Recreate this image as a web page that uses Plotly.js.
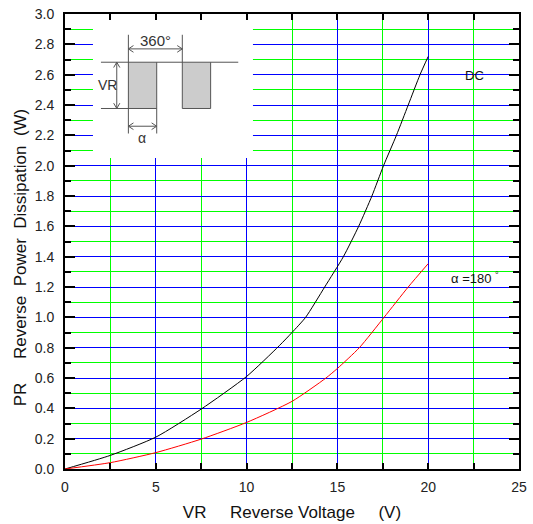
<!DOCTYPE html>
<html>
<head>
<meta charset="utf-8">
<script src="https://cdn.plot.ly/plotly-3.0.1.min.js"></script>
<style>html,body{margin:0;padding:0;background:#fff;}#chart{width:533px;height:524px;}</style>
</head>
<body>
<div id="chart"></div>
<script>
// Data
const dcX = [0, 2.5, 5, 7.5, 10, 11.8, 12.5, 13.25, 14.3, 15.33, 16.17, 16.9, 17.54, 18.25, 18.9, 19.55, 20];
const dcY = [0, 0.09, 0.21, 0.395, 0.61, 0.813, 0.90, 1.0, 1.2, 1.4, 1.6, 1.8, 2.0, 2.2, 2.4, 2.6, 2.72];
const halfX = [0, 2.5, 5, 7.5, 10, 12.5, 14.37, 15, 16.21, 17.57, 18.9, 20];
const halfY = [0, 0.042, 0.108, 0.197, 0.307, 0.446, 0.6, 0.663, 0.8, 1.0, 1.2, 1.354];
const seriesNames = ["DC", "α =180 °"];
const xTickVals = [0, 5, 10, 15, 20, 25];
const yTickVals = [0, 0.2, 0.4, 0.6, 0.8, 1.0, 1.2, 1.4, 1.6, 1.8, 2.0, 2.2, 2.4, 2.6, 2.8, 3.0];

const NB = "\u00A0";
const font = "Arial, 'Liberation Sans', sans-serif";

const traces = [
  {x: dcX, y: dcY, mode: "lines", name: seriesNames[0], line: {color: "#000000", width: 1, shape: "spline", smoothing: 0.6}},
  {x: halfX, y: halfY, mode: "lines", name: seriesNames[1], line: {color: "#ff0000", width: 1, shape: "spline", smoothing: 0.6}}
];

const grey = "#555555";
function ln(x0, y0, x1, y1) {
  return {type: "line", xref: "x", yref: "y", x0: x0, x1: x1, y0: y0, y1: y1, line: {color: grey, width: 1}, layer: "between"};
}
function path(d) {
  return {type: "path", xref: "x", yref: "y", path: d, line: {color: grey, width: 1}, layer: "between"};
}
// arrowhead sizes in data units (~5px long, ~3px half width)
const ahx = 0.28, ahy = 0.022, avx = 0.17, avy = 0.035;
function hArrow(xa, xb, y) {
  return [ln(xa, y, xb, y),
    path(`M${xa + ahx},${y + ahy} L${xa},${y} L${xa + ahx},${y - ahy}`),
    path(`M${xb - ahx},${y + ahy} L${xb},${y} L${xb - ahx},${y - ahy}`)];
}
function vArrow(x, ya, yb) { // ya top, yb bottom
  return [ln(x, ya, x, yb),
    path(`M${x - avx},${ya - avy} L${x},${ya} L${x + avx},${ya - avy}`),
    path(`M${x - avx},${yb + avy} L${x},${yb} L${x + avx},${yb + avy}`)];
}

const shapes = [
  // white box behind inset
  {type: "rect", xref: "x", yref: "y", x0: 1.54, x1: 10.35, y0: 2.05, y1: 2.985, fillcolor: "#ffffff", line: {width: 0}, layer: "between"},
  // grey pulses
  {type: "rect", xref: "x", yref: "y", x0: 3.49, x1: 5.05, y0: 2.377, y1: 2.682, fillcolor: "#cccccc", line: {width: 0}, layer: "between"},
  {type: "rect", xref: "x", yref: "y", x0: 6.46, x1: 8.02, y0: 2.377, y1: 2.682, fillcolor: "#cccccc", line: {width: 0}, layer: "between"},
  // waveform outline
  ln(1.98, 2.682, 9.54, 2.682),
  ln(1.98, 2.377, 5.05, 2.377),
  ln(6.46, 2.377, 8.02, 2.377),
  ln(3.49, 2.212, 3.49, 2.863),
  ln(5.05, 2.212, 5.05, 2.682),
  ln(6.46, 2.377, 6.46, 2.863),
  ln(8.02, 2.377, 8.02, 2.682),
  ...hArrow(3.49, 6.46, 2.770),
  ...vArrow(2.85, 2.682, 2.377),
  ...hArrow(3.49, 5.05, 2.260)
];

const annotations = [
  {x: 5.0, y: 2.826, xref: "x", yref: "y", text: "360°", showarrow: false, font: {family: font, size: 15, color: "#333"}},
  {x: 2.32, y: 2.53, xref: "x", yref: "y", text: "VR", showarrow: false, font: {family: font, size: 14, color: "#333"}},
  {x: 4.25, y: 2.185, xref: "x", yref: "y", text: "α", showarrow: false, font: {family: font, size: 14, color: "#333"}},
  {x: 22.55, y: 2.596, xref: "x", yref: "y", text: seriesNames[0], showarrow: false, font: {family: font, size: 13, color: "#111"}},
  {x: 22.58, y: 1.258, xref: "x", yref: "y", text: "α =180 <sup>°</sup>", showarrow: false, font: {family: font, size: 13, color: "#111"}}
];

const layout = {
  width: 533, height: 524,
  margin: {l: 65, r: 14, t: 14, b: 55},
  paper_bgcolor: "#ffffff", plot_bgcolor: "#ffffff",
  showlegend: false,
  font: {family: font, color: "#222"},
  xaxis: {
    range: [xTickVals[0], xTickVals[xTickVals.length - 1]], tickmode: "linear", tick0: xTickVals[0], dtick: xTickVals[1] - xTickVals[0],
    ticks: "inside", ticklen: 6, tickwidth: 2, tickcolor: "#000",
    showline: true, linewidth: 2, linecolor: "#000", mirror: "ticks",
    showgrid: true, gridcolor: "#0000ff", gridwidth: 1, zeroline: false,
    tickfont: {family: font, size: 14, color: "#222"}, ticklabelstandoff: 4,
    minor: {tick0: 0, dtick: 2.5, ticks: "inside", ticklen: 6, tickwidth: 2, tickcolor: "#000", showgrid: true, gridcolor: "#00ff00", gridwidth: 1},
    title: {text: "VR" + NB.repeat(4) + " Reverse Voltage" + NB.repeat(4) + " (V)", font: {family: font, size: 17, color: "#111"}, standoff: 12}
  },
  yaxis: {
    range: [yTickVals[0], yTickVals[yTickVals.length - 1]], tickmode: "linear", tick0: 0, dtick: 0.2, tickformat: ".1f",
    ticks: "inside", ticklen: 10, tickwidth: 2, tickcolor: "#000",
    showline: true, linewidth: 2, linecolor: "#000", mirror: "ticks",
    showgrid: true, gridcolor: "#0000ff", gridwidth: 1, zeroline: false,
    tickfont: {family: font, size: 14, color: "#222"}, ticklabelstandoff: 6,
    minor: {tick0: 0, dtick: 0.1, ticks: "inside", ticklen: 6, tickwidth: 2, tickcolor: "#000", showgrid: true, gridcolor: "#00ff00", gridwidth: 1},
    title: {text: "PR" + NB.repeat(4) + " Reverse" + NB + " Power" + NB + " Dissipation" + NB + " (W)" + NB + "<span style='color:#ffffff'>(W)</span>", font: {family: font, size: 17, color: "#111"}, standoff: 4}
  },
  shapes: shapes,
  annotations: annotations
};

Plotly.newPlot("chart", traces, layout, {displayModeBar: false, staticPlot: true});
</script>
</body>
</html>
